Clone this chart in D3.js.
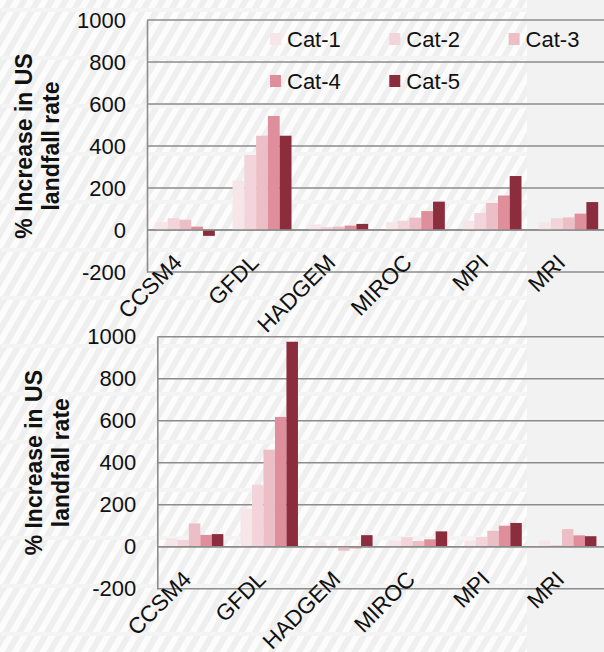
<!DOCTYPE html>
<html>
<head>
<meta charset="utf-8">
<script src="https://cdn.jsdelivr.net/npm/d3@7"></script>
<style>
html,body{margin:0;padding:0;background:#f2f2f2;}
svg{display:block;font-family:"Liberation Sans",Arial,sans-serif;}
</style>
</head>
<body>
<svg id="c" width="604" height="652"></svg>
<script>
const models = ["CCSM4","GFDL","HADGEM","MIROC","MPI","MRI"];
const seriesNames = ["Cat-1","Cat-2","Cat-3","Cat-4","Cat-5"];
const colors = ["#f6e6ea","#f2d4da","#ecbfc6","#de8f9b","#8b2d3d"];
const yTicks = [-200,0,200,400,600,800,1000];
const yTitle = ["% Increase in US","landfall rate"];

// top panel values: rows = models, columns = Cat-1..Cat-5
const topCat1 = [38, 235, 27, 37, 44, 37];
const topCat2 = [56, 357, 14, 44, 81, 56];
const topCat3 = [49, 449, 16, 59, 129, 60];
const topCat4 = [16, 543, 21, 90, 164, 78];
const topCat5 = [-28, 449, 29, 135, 257, 133];

// bottom panel values
const botCat1 = [40, 180, 20, 30, 30, 30];
const botCat2 = [32, 295, 0, 45, 46, 8];
const botCat3 = [111, 462, -19, 27, 76, 84];
const botCat4 = [56, 618, -8, 35, 100, 54];
const botCat5 = [60, 976, 55, 73, 113, 50];

const svg = d3.select("#c");
const W = 604, H = 652;

// background texture
const defs = svg.append("defs");
const pat = defs.append("pattern").attr("id","stripes").attr("patternUnits","userSpaceOnUse")
  .attr("width",12).attr("height",12).attr("patternTransform","rotate(30)");
pat.append("rect").attr("width",12).attr("height",12).attr("fill","#efefef");
pat.append("rect").attr("x",0).attr("width",6).attr("height",12).attr("fill","#fcfcfc");
const pat2 = defs.append("pattern").attr("id","bands").attr("patternUnits","userSpaceOnUse")
  .attr("width",600).attr("height",48).attr("y",8);
pat2.append("rect").attr("width",600).attr("height",4).attr("fill","#f4f4f4");

svg.append("rect").attr("width",W).attr("height",H).attr("fill","#f2f2f2");
svg.append("rect").attr("width",527).attr("height",H).attr("fill","url(#stripes)");
svg.append("rect").attr("width",527).attr("height",H).attr("fill","url(#bands)");

function panel(cfg, cols){
  const g = svg.append("g");
  const x = d3.scaleBand().domain(models).range([cfg.left, cfg.right]).paddingInner(0.23).paddingOuter(0.115);
  const x1 = d3.scaleBand().domain(seriesNames).range([0, x.bandwidth()]);
  const y = d3.scaleLinear().domain([-200,1000]).range([cfg.bottom, cfg.top]);

  // gridlines
  g.append("g").selectAll("line").data(yTicks).join("line")
    .attr("x1",cfg.left).attr("x2",W+5)
    .attr("y1",d=>y(d)).attr("y2",d=>y(d))
    .attr("stroke","#8c8c8c").attr("stroke-width",1.6);

  // y axis via d3.axisLeft
  const ya = g.append("g").attr("transform",`translate(${cfg.left},0)`)
    .call(d3.axisLeft(y).tickValues(yTicks).tickSize(0).tickPadding(21).tickFormat(d=>String(d)));
  ya.select(".domain").attr("stroke","#8c8c8c").attr("stroke-width",1.6);
  ya.selectAll("text").attr("font-size",22).attr("fill","#111").attr("font-family","Liberation Sans, Arial, sans-serif");

  // bars
  const rows = models.map((m,i)=>({model:m, vals: seriesNames.map((s,j)=>({s, v: cols[j][i]}))}));
  g.append("g").selectAll("g").data(rows).join("g")
    .attr("transform",d=>`translate(${x(d.model)},0)`)
    .selectAll("rect").data(d=>d.vals).join("rect")
    .attr("x",d=>x1(d.s)).attr("width",x1.bandwidth())
    .attr("y",d=>y(Math.max(0,d.v))).attr("height",d=>Math.abs(y(d.v)-y(0)))
    .attr("fill",(d,j)=>colors[j]);

  // zero line
  g.append("line").attr("x1",cfg.left).attr("x2",W+5).attr("y1",y(0)).attr("y2",y(0))
    .attr("stroke","#8c8c8c").attr("stroke-width",1.6);

  // x labels
  g.append("g").selectAll("text").data(models).join("text")
    .attr("transform",d=>`translate(${x(d)+x.bandwidth()/2-2},${cfg.bottom-8}) rotate(-45)`)
    .attr("text-anchor","end").attr("font-size",22.5).attr("fill","#111").text(d=>d);

  // y title
  const tx = cfg.titleX;
  g.append("text").attr("transform",`translate(${tx},${(cfg.top+cfg.bottom)/2}) rotate(-90)`)
    .attr("text-anchor","middle").attr("font-size",23).attr("font-weight","bold").attr("fill","#111")
    .selectAll("tspan").data(yTitle).join("tspan")
    .attr("x",0).attr("dy",(d,i)=>i===0?0:27).text(d=>d);
  return g;
}

panel({left:147, right:607, top:20, bottom:272, titleX:32}, [topCat1,topCat2,topCat3,topCat4,topCat5]);
panel({left:157.3, right:605, top:336.7, bottom:588.7, titleX:42}, [botCat1,botCat2,botCat3,botCat4,botCat5]);

// legend (top panel)
const legPos = [[270,39],[389.3,39],[508.6,39],[270,81],[389.3,81]];
const leg = svg.append("g").selectAll("g").data(seriesNames).join("g")
  .attr("transform",(d,i)=>`translate(${legPos[i][0]},${legPos[i][1]})`);
leg.append("rect").attr("x",0).attr("y",-6).attr("width",11).attr("height",12).attr("fill",(d,i)=>colors[i]);
leg.append("text").attr("x",17).attr("dy","0.36em").attr("font-size",22).attr("fill","#111").text(d=>d);
</script>
</body>
</html>
